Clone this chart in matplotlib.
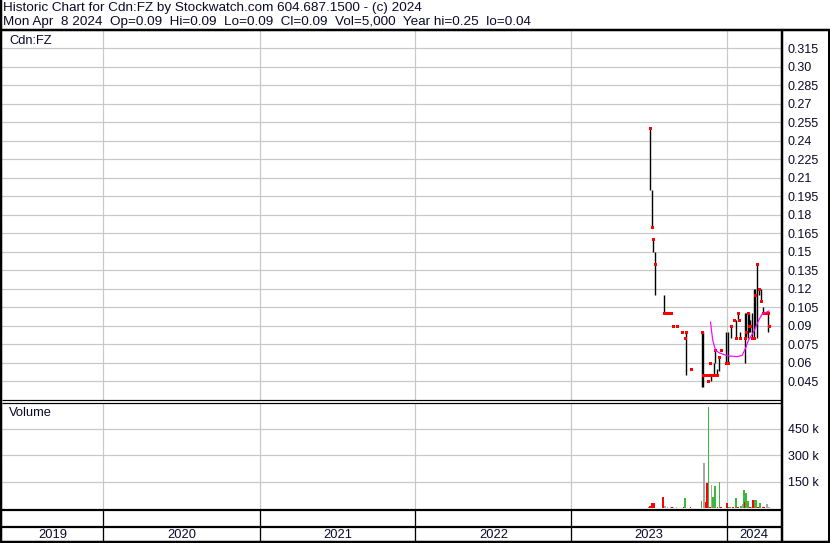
import matplotlib
matplotlib.use('Agg')
import matplotlib.pyplot as plt
import pandas as pd

plt.rcParams['font.family'] = ['Liberation Sans', 'DejaVu Sans']

W, H = 830, 543
PX = 0.72  # one pixel in points at dpi 100

# price sessions
bar_dates = ['2023-07-05', '2023-07-08', '2023-07-11', '2023-07-15', '2023-08-05',
             '2023-08-08', '2023-08-12', '2023-08-15', '2023-08-23', '2023-08-27',
             '2023-09-06', '2023-09-18', '2023-09-24', '2023-09-27', '2023-10-09',
             '2023-11-04', '2023-11-06', '2023-11-09', '2023-11-12', '2023-11-16',
             '2023-11-18', '2023-11-22', '2023-11-24', '2023-11-27', '2023-11-30',
             '2023-12-04', '2023-12-09', '2023-12-13', '2023-12-17', '2023-12-29',
             '2024-01-03', '2024-01-09', '2024-01-17', '2024-01-22', '2024-01-26',
             '2024-01-29', '2024-02-01', '2024-02-11', '2024-02-14', '2024-02-18',
             '2024-02-20', '2024-02-24', '2024-02-29', '2024-03-03', '2024-03-06',
             '2024-03-11', '2024-03-16', '2024-03-20', '2024-03-24', '2024-03-28',
             '2024-04-02', '2024-04-05', '2024-04-08']
bar_high = [0.25, 0.20, 0.16, 0.15, 0.115,
            0.10, 0.10, 0.10, 0.10, 0.09,
            0.09, 0.085, 0.08, 0.085, 0.055,
            0.085, 0.085, 0.05, 0.05, 0.05,
            0.045, 0.06, 0.05, 0.05, 0.06,
            0.07, 0.055, 0.065, 0.07, 0.085,
            0.085, 0.09, 0.095, 0.095, 0.10,
            0.095, 0.085, 0.10, 0.10, 0.10,
            0.10, 0.095, 0.10, 0.12, 0.12,
            0.14, 0.12, 0.12, 0.105, 0.10,
            0.10, 0.10, 0.09]
bar_low = [0.20, 0.17, 0.15, 0.115, 0.10,
           0.10, 0.10, 0.10, 0.10, 0.09,
           0.09, 0.085, 0.08, 0.05, 0.055,
           0.04, 0.04, 0.05, 0.05, 0.05,
           0.045, 0.06, 0.045, 0.05, 0.05,
           0.06, 0.05, 0.053, 0.07, 0.06,
           0.06, 0.08, 0.095, 0.08, 0.095,
           0.095, 0.08, 0.06, 0.08, 0.08,
           0.085, 0.085, 0.08, 0.08, 0.09,
           0.08, 0.115, 0.11, 0.10, 0.10,
           0.10, 0.085, 0.09]
bar_close = [0.25, 0.17, 0.16, 0.14, 0.10,
             0.10, 0.10, 0.10, 0.10, 0.09,
             0.09, 0.085, 0.08, 0.085, 0.055,
             0.085, 0.05, 0.05, 0.05, 0.05,
             0.045, 0.06, 0.05, 0.05, 0.05,
             0.07, 0.05, 0.065, 0.07, 0.06,
             0.06, 0.09, 0.095, 0.08, 0.10,
             0.095, 0.08, 0.08, 0.085, 0.10,
             0.09, 0.09, 0.08, 0.08, 0.115,
             0.14, 0.12, 0.11, 0.10, 0.10,
             0.10, 0.10, 0.09]

# moving average (magenta)
ma_dates = ['2023-11-23', '2023-11-28', '2023-12-05', '2023-12-14', '2023-12-30',
            '2024-01-08', '2024-01-24', '2024-02-05', '2024-02-12', '2024-02-20',
            '2024-03-03', '2024-03-15', '2024-03-23', '2024-04-05', '2024-04-08']
ma_values = [0.093, 0.0785, 0.070, 0.068, 0.066,
             0.0655, 0.065, 0.066, 0.071, 0.0785,
             0.085, 0.0947, 0.0996, 0.1015, 0.102]

# volume ('u' up, 'd' down, 'n' unchanged)
vol_dates = ['2023-07-01', '2023-07-05', '2023-07-09', '2023-07-12', '2023-07-15',
             '2023-08-04', '2023-08-09', '2023-08-14', '2023-08-21', '2023-08-25',
             '2023-08-28', '2023-09-04', '2023-09-16', '2023-09-21', '2023-09-25',
             '2023-10-07', '2023-11-02', '2023-11-07', '2023-11-10', '2023-11-12',
             '2023-11-15', '2023-11-18', '2023-11-21', '2023-11-25', '2023-11-29',
             '2023-12-04', '2023-12-09', '2023-12-14', '2023-12-18', '2023-12-31',
             '2024-01-05', '2024-01-09', '2024-01-14', '2024-01-22', '2024-01-26',
             '2024-02-02', '2024-02-06', '2024-02-09', '2024-02-11', '2024-02-14',
             '2024-02-19', '2024-02-23', '2024-02-27', '2024-03-02', '2024-03-05',
             '2024-03-09', '2024-03-13', '2024-03-18', '2024-03-24', '2024-03-28',
             '2024-04-04', '2024-04-08']
vol_values = [3000, 10000, 27000, 27000, 27000,
              65000, 13000, 3000, 5000, 3000,
              3000, 3000, 2000, 6000, 54000,
              3000, 42000, 252000, 21000, 36000,
              140000, 570000, 3000, 129000, 62000,
              123000, 5000, 148000, 3000, 27000,
              5000, 5000, 3000, 56000, 8000,
              12000, 21000, 100000, 36000, 85000,
              38000, 8000, 6000, 44000, 46000,
              48000, 6000, 27000, 3000, 5000,
              21000, 5000]
vol_dir = ['u', 'd', 'd', 'd', 'd',
           'd', 'n', 'n', 'n', 'd',
           'n', 'n', 'd', 'd', 'u',
           'd', 'u', 'n', 'n', 'd',
           'd', 'u', 'd', 'n', 'u',
           'u', 'd', 'u', 'd', 'd',
           'u', 'u', 'd', 'u', 'd',
           'u', 'n', 'u', 'd', 'u',
           'u', 'd', 'n', 'd', 'u',
           'u', 'd', 'u', 'd', 'd',
           'n', 'n']

price_ticks = [0.045, 0.06, 0.075, 0.09, 0.105, 0.12, 0.135, 0.15, 0.165, 0.18,
               0.195, 0.21, 0.225, 0.24, 0.255, 0.27, 0.285, 0.30, 0.315]
vol_ticks = [150000, 300000, 450000]
vol_tick_labels = ['150 k', '300 k', '450 k']
years = [2019, 2020, 2021, 2022, 2023, 2024]

header1 = 'Historic Chart for Cdn:FZ by Stockwatch.com 604.687.1500 - (c) 2024'
header2 = 'Mon Apr  8 2024  Op=0.09  Hi=0.09  Lo=0.09  Cl=0.09  Vol=5,000  Year hi=0.25  lo=0.04'

TXT = '#0a0a2a'
GRID = '#c8c8c8'
FS = 9
vol_colors = {'u': '#3cb83c', 'd': '#ff0000', 'n': '#a8a8a8'}

x_left, x_right = pd.Timestamp('2019-05-09'), pd.Timestamp('2024-05-06')
year_starts = [pd.Timestamp(f'{y}-01-01') for y in years[1:]]


def box(x0, y0, x1, y1):
    return [x0 / W, 1 - y1 / H, (x1 - x0) / W, (y1 - y0) / H]


def price_at(y):
    return 0.045 + (381.3 - y) * 0.015 / 18.5


def vol_at(y):
    return (508 - y) / 26.5 * 150000


fig = plt.figure(figsize=(W / 100, H / 100), dpi=100)
fig.patch.set_facecolor('white')

ax_p = fig.add_axes(box(2, 30, 781, 400))
ax_v = fig.add_axes(box(2, 402.5, 781, 510))
ax_y = fig.add_axes(box(2, 510, 781, 542))

for ax in (ax_p, ax_v, ax_y):
    ax.set_xlim(x_left, x_right)
    for s in ax.spines.values():
        s.set_visible(False)
    ax.set_axisbelow(True)

# price panel
bd = pd.to_datetime(bar_dates)
ax_p.vlines(bd, bar_low, bar_high, color='black', lw=1.4 * PX, zorder=3)
ax_p.plot(bd, bar_close, 's', color='#ff0000', ms=3 * PX, mew=0, zorder=4)
ax_p.plot(pd.to_datetime(ma_dates), ma_values, color='#ff00ff', lw=1.2 * PX, zorder=5)
ax_p.set_ylim(price_at(400), price_at(30))
ax_p.set_yticks(price_ticks)
ax_p.set_yticklabels([f'{v:.3f}'[:-1] if f'{v:.3f}'.endswith('0') else f'{v:.3f}'
                      for v in price_ticks])
ax_p.yaxis.tick_right()
ax_p.set_xticks(year_starts)
ax_p.set_xticklabels([])
ax_p.tick_params(length=0, labelsize=FS, labelcolor=TXT, pad=5)
ax_p.grid(True, color=GRID, lw=1.2 * PX)
ax_p.text(7 / 779, 1 - 11 / 370, 'Cdn:FZ', transform=ax_p.transAxes,
          fontsize=9.3, color=TXT, va='center', ha='left')

# volume panel
ax_v.bar(pd.to_datetime(vol_dates), vol_values, width=4.0,
         color=[vol_colors[d] for d in vol_dir], lw=0, zorder=3)
ax_v.set_ylim(vol_at(510), vol_at(402.5))
ax_v.set_yticks(vol_ticks)
ax_v.set_yticklabels(vol_tick_labels)
ax_v.yaxis.tick_right()
ax_v.set_xticks(year_starts)
ax_v.set_xticklabels([])
ax_v.tick_params(length=0, labelsize=FS, labelcolor=TXT, pad=5)
ax_v.grid(True, color=GRID, lw=1.2 * PX)
ax_v.text(7 / 779, 1 - 10 / 107.5, 'Volume', transform=ax_v.transAxes,
          fontsize=9.3, color=TXT, va='center', ha='left')

# year strip
ax_y.set_ylim(0, 1)
ax_y.set_xticks([])
ax_y.set_yticks([])
ax_y.vlines(year_starts, 0, 1, color='black', lw=1.3 * PX)
edges = [x_left] + year_starts + [x_right]
for y, a, b in zip(years, edges[:-1], edges[1:]):
    ax_y.text(a + (b - a) / 2, 7.5 / 32, str(y), ha='center', va='center',
              fontsize=9.3, color=TXT)

# frames and header
ov = fig.add_axes([0, 0, 1, 1], zorder=10)
ov.set_xlim(0, W)
ov.set_ylim(H, 0)
ov.axis('off')
ov.patch.set_alpha(0)
k = dict(color='black', solid_capstyle='butt')
ov.plot([1, 1], [0, 543], lw=2.5 * PX, **k)
ov.plot([0, 830], [541.8, 541.8], lw=2.5 * PX, **k)
ov.plot([828.8, 828.8], [30, 543], lw=2 * PX, **k)
ov.plot([0, 830], [30, 30], lw=2.5 * PX, **k)
ov.plot([781.6, 781.6], [30, 543], lw=2.5 * PX, **k)
ov.plot([2, 781], [400.3, 400.3], lw=1.2 * PX, **k)
ov.plot([2, 781], [402.8, 402.8], lw=1.2 * PX, **k)
ov.plot([2, 781], [510, 510], lw=2.2 * PX, **k)
ov.plot([2, 781], [526.7, 526.7], lw=2.2 * PX, **k)
ov.text(3, 11.5, header1, fontsize=9.7, color=TXT, va='baseline', ha='left')
ov.text(3, 25, header2, fontsize=9.7, color=TXT, va='baseline', ha='left')

fig.savefig('out.png', dpi=100, facecolor='white')
